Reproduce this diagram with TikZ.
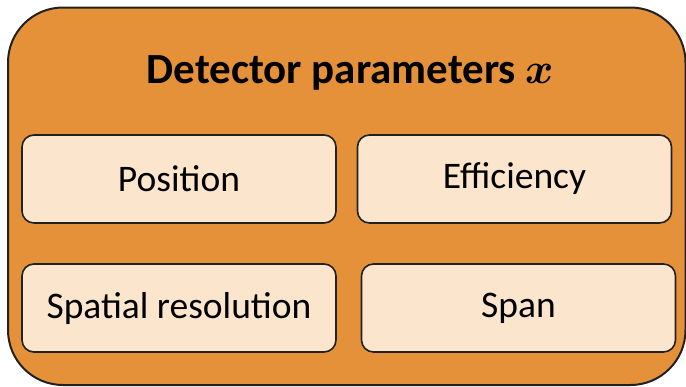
\documentclass[tikz,border=0pt]{standalone}
\usepackage{fontspec}
\setmainfont{Carlito}
\usepackage{unicode-math}
\begin{document}
\begin{tikzpicture}[x=1pt,y=-1pt,
  outerbox/.style={draw=black!87,line width=2pt,fill=orangefill,rounded corners=55pt},
  innerbox/.style={draw=black!87,line width=1.6pt,fill=peach,rounded corners=12pt,minimum width=314pt,minimum height=88pt,inner sep=0pt,font=\fontsize{37.5}{42}\selectfont},
  titletext/.style={font=\fontsize{43}{48}\selectfont\bfseries,inner sep=0pt}]
\definecolor{orangefill}{HTML}{E5913A}
\definecolor{peach}{HTML}{FCE5CD}
\useasboundingbox (0,0) rectangle (686,386);
\begin{scope}
\clip (0,0) rectangle (686,386);
\draw[outerbox] (8,7.5) rectangle (685.5,385);
\end{scope}
\node[titletext,anchor=base] (title) at (350.5,83) {Detector parameters $\symbfit{x}$};
\node[innerbox] (pos) at (179,179) {Position};
\node[innerbox] (eff) at (514.5,179) {Efficiency};
\node[innerbox] (spa) at (179,308) {Spatial resolution};
\node[innerbox] (span) at (518.5,308) {Span};
\end{tikzpicture}
\end{document}
